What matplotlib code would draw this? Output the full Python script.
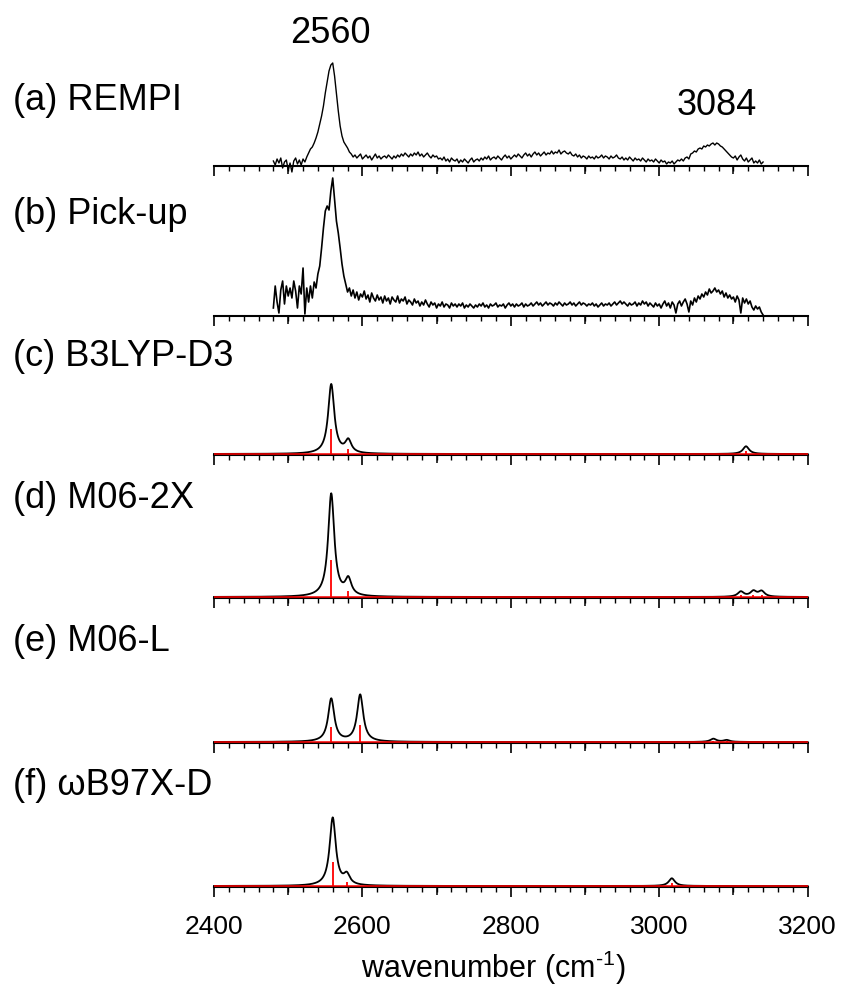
import numpy as np
import matplotlib.pyplot as plt
from matplotlib.ticker import MultipleLocator

plt.rcParams['font.family'] = ['Liberation Sans', 'DejaVu Sans']
plt.rcParams['mathtext.fontset'] = 'custom'
plt.rcParams['mathtext.rm'] = 'Liberation Sans'

wn_exp = np.arange(2480, 3140.1, 2.5)
rempi = [5, 1, 7, 3, 8, -2, 4, 6, -4, 3,
         -6, 5, 8, 2, 6, 1, 7, 4, 9, 13,
         17, 19, 23, 28, 34, 42, 50, 60, 73, 84,
         95, 101, 103, 90, 72, 55, 40, 30, 24, 21,
         18, 14, 12, 9, 11, 8, 10, 12, 7, 9,
         11, 8, 10, 6, 9, 12, 8, 10, 7, 9,
         10, 8, 11, 9, 7, 10, 8, 11, 9, 12,
         10, 13, 11, 9, 12, 10, 13, 11, 14, 10,
         12, 9, 11, 13, 10, 8, 11, 9, 10, 7,
         8, 6, 9, 5, 7, 4, 8, 6, 5, 7,
         3, 6, 4, 7, 5, 3, 6, 8, 4, 6,
         7, 5, 8, 6, 9, 7, 10, 6, 8, 9,
         7, 10, 8, 6, 9, 11, 8, 10, 7, 9,
         11, 9, 12, 10, 8, 11, 13, 10, 12, 9,
         12, 14, 11, 13, 10, 12, 14, 11, 13, 12,
         15, 12, 14, 13, 16, 12, 14, 15, 13, 12,
         14, 11, 10, 12, 9, 11, 8, 10, 9, 7,
         10, 8, 9, 7, 10, 8, 9, 11, 8, 10,
         9, 7, 10, 8, 9, 11, 8, 7, 9, 6,
         8, 6, 9, 7, 5, 8, 6, 7, 5, 8,
         6, 4, 7, 5, 6, 4, 7, 5, 3, 6,
         4, 5, 2, 4, 3, 5, 2, 4, 6, 5,
         7, 5, 8, 9, 7, 12, 13, 15, 14, 17,
         18, 17, 20, 19, 21, 20, 22, 23, 21, 23,
         22, 20, 19, 17, 15, 13, 11, 9, 8, 10,
         6, 9, 11, 7, 5, 8, 4, 6, 8, 3,
         5, 3, 6, 2, 4]
pickup = [8, 30, 14, 3, 26, 35, 12, 30, 20, 28,
          18, 35, 25, 8, 30, 22, 48, 2, 28, 14,
          30, 18, 34, 28, 42, 50, 68, 88, 105, 110,
          106, 125, 138, 116, 95, 83, 68, 52, 40, 32,
          24, 28, 20, 26, 18, 24, 16, 22, 19, 25,
          17, 21, 14, 23, 18, 15, 21, 16, 19, 13,
          20, 15, 18, 12, 19, 16, 14, 20, 13, 17,
          15, 19, 12, 16, 14, 11, 17, 13, 15, 10,
          14, 11, 16, 12, 9, 14, 11, 13, 8, 12,
          10, 14, 9, 12, 11, 8, 13, 10, 12, 9,
          12, 10, 13, 8, 11, 9, 12, 10, 8, 11,
          9, 12, 10, 13, 9, 11, 8, 12, 10, 11,
          13, 9, 11, 10, 12, 8, 11, 13, 10, 12,
          9, 12, 10, 11, 13, 9, 12, 10, 11, 13,
          10, 12, 14, 11, 13, 10, 12, 14, 11, 13,
          12, 10, 13, 11, 14, 12, 10, 13, 11, 12,
          14, 11, 13, 10, 12, 14, 11, 13, 12, 10,
          12, 11, 13, 10, 12, 9, 11, 13, 10, 12,
          11, 13, 10, 12, 14, 11, 13, 15, 12, 14,
          12, 10, 13, 11, 12, 14, 10, 13, 11, 15,
          12, 14, 10, 13, 11, 9, 13, 10, 12, 8,
          12, 15, 10, 13, 8, 14, 11, 3, 12, 15,
          10, 14, 17, 12, 4, 15, 11, 18, 14, 20,
          17, 22, 19, 24, 21, 27, 23, 25, 28, 24,
          26, 22, 25, 19, 23, 18, 21, 17, 19, 14,
          20, 16, 3, 18, 13, 17, 12, 15, 9, 6,
          10, 7, 9, 4, 1]

# computed stick spectra
b3lyp_pos = [2558, 2581, 3117]
b3lyp_int = [69.5, 12.6, 7.7]
m062x_pos = [2558, 2581, 3110, 3127, 3138]
m062x_int = [103, 16.3, 5.2, 5.5, 5.5]
m06l_pos = [2558, 2597, 3073, 3091]
m06l_int = [43, 47, 3.2, 1.9]
wb97_pos = [2560, 2579, 3017]
wb97_int = [68, 9.9, 7.7]

labels = ['(a) REMPI', '(b) Pick-up', '(c) B3LYP-D3', '(d) M06-2X',
          '(e) M06-L', '(f) \u03c9B97X-D']
label_y = [110, 224, 366, 508, 651, 795]

hwhm = 5.0
stick_frac = 0.36
W, H = 848, 992
bases = [166, 316, 455, 598, 743, 887]
hax = 130

fig = plt.figure(figsize=(W / 100, H / 100), dpi=100)
grid = np.linspace(2400, 3200, 1601)
calc = [(b3lyp_pos, b3lyp_int), (m062x_pos, m062x_int),
        (m06l_pos, m06l_int), (wb97_pos, wb97_int)]

for i, base in enumerate(bases):
    ax = fig.add_axes([214 / W, 1 - base / H, 593.6 / W, hax / H])
    ax.patch.set_visible(False)
    for s in ['top', 'left', 'right']:
        ax.spines[s].set_visible(False)
    ax.spines['bottom'].set_linewidth(1.5)
    ax.set_yticks([])
    ax.set_xlim(2400, 3200)
    ax.xaxis.set_major_locator(MultipleLocator(200))
    ax.xaxis.set_minor_locator(MultipleLocator(20))
    ax.tick_params(which='major', direction='out', length=7.2, width=1.2,
                   labelsize=19, pad=13, labelbottom=(i == 5))
    ax.tick_params(which='minor', direction='out', length=3.6, width=1.0)
    sec = ax.secondary_xaxis('bottom')
    sec.set_xticks([2500, 2700, 2900, 3100])
    sec.tick_params(direction='out', length=5.4, width=1.1, labelbottom=False)
    sec.spines['bottom'].set_visible(False)

    if i == 0:
        ax.set_ylim(0, hax)
        ax.plot(wn_exp, rempi, color='black', lw=1.0, clip_on=False)
    elif i == 1:
        ax.set_ylim(0, hax)
        ax.plot(wn_exp, pickup, color='black', lw=1.2, clip_on=False)
    else:
        pos, inten = calc[i - 2]
        ax.set_ylim(-1, hax - 1)
        spec = np.zeros_like(grid)
        for p, a in zip(pos, inten):
            spec += a * hwhm ** 2 / ((grid - p) ** 2 + hwhm ** 2)
        ax.plot(grid, spec, color='black', lw=1.3, clip_on=False)
        ax.axhline(0, color='red', lw=1.1, zorder=3)
        ax.vlines(pos, 0, np.array(inten) * stick_frac, color='red', lw=1.3, zorder=3)

    fig.text(13 / W, 1 - label_y[i] / H, labels[i], fontsize=26,
             ha='left', va='baseline')

fig.text(330 / W, 1 - 43 / H, '2560', fontsize=26, ha='center', va='baseline')
fig.text(717 / W, 1 - 115 / H, '3084', fontsize=26, ha='center', va='baseline')

fig.text(493 / W, 1 - 968 / H, r'wavenumber (cm$^{\text{-1}}$)', fontsize=22,
         ha='center', va='center')

fig.savefig('out.png', dpi=100)
